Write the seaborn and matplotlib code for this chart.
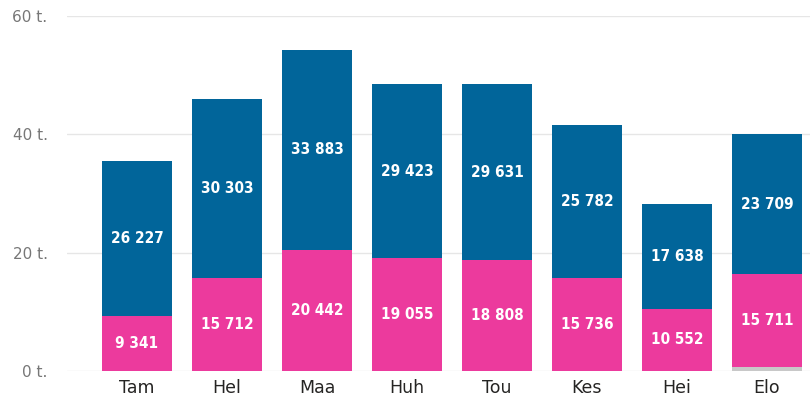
import matplotlib
matplotlib.use("Agg")
import matplotlib.pyplot as plt
import seaborn as sns
import pandas as pd
import numpy as np

categories = ["Tam", "Hel", "Maa", "Huh", "Tou", "Kes", "Hei", "Elo"]
pink_vals = [9341, 15712, 20442, 19055, 18808, 15736, 10552, 15711]
blue_vals = [26227, 30303, 33883, 29423, 29631, 25782, 17638, 23709]
gray_vals = [0, 0, 0, 0, 0, 0, 0, 600]

BLUE = "#01659A"
PINK = "#EC3A9D"
GRAY = "#C8C8C8"

sns.set_theme(style="white")
plt.rcParams['font.family'] = ['DejaVu Sans']

df = pd.DataFrame({"cat": categories, "pink": pink_vals, "blue": blue_vals, "gray": gray_vals})
df["low"] = df["gray"]
df["mid"] = df["gray"] + df["pink"]
df["top"] = df["mid"] + df["blue"]

fig = plt.figure(figsize=(8.1, 4.05), dpi=100)
ax = fig.add_axes([67/810, 34/405, 1 - 67/810, 355/405])

w = 0.78
sns.barplot(data=df, x="cat", y="top", color=BLUE, saturation=1, width=w, ax=ax, zorder=2, linewidth=0)
sns.barplot(data=df, x="cat", y="mid", color=PINK, saturation=1, width=w, ax=ax, zorder=3, linewidth=0)
sns.barplot(data=df, x="cat", y="low", color=GRAY, saturation=1, width=w, ax=ax, zorder=4, linewidth=0)

def fmt(v):
    return f"{v:,}".replace(",", " ")

for i, r in df.iterrows():
    ax.text(i, (r["mid"] + r["top"]) / 2, fmt(r["blue"]), ha="center", va="center",
            color="white", fontsize=11, fontweight="bold", fontstretch="condensed", zorder=5)
    ax.text(i, (r["low"] + r["mid"]) / 2, fmt(r["pink"]), ha="center", va="center",
            color="white", fontsize=11, fontweight="bold", fontstretch="condensed", zorder=5)

ax.set_xlim(-0.778, 7.478)
ax.set_ylim(0, 60000)
ax.set_yticks([0, 20000, 40000, 60000])
ax.set_yticklabels(["0 t.", "20 t.", "40 t.", "60 t."])
ax.yaxis.grid(True, color="#E6E6E6", linewidth=1, zorder=0)
ax.set_axisbelow(True)
for s in ax.spines.values():
    s.set_visible(False)
ax.set_xlabel("")
ax.set_ylabel("")
ax.tick_params(axis="y", labelsize=11, labelcolor="#777777", length=0, pad=14)
ax.tick_params(axis="x", labelsize=12.5, labelcolor="#252423", length=0, pad=6)

fig.savefig("out.png", dpi=100)
